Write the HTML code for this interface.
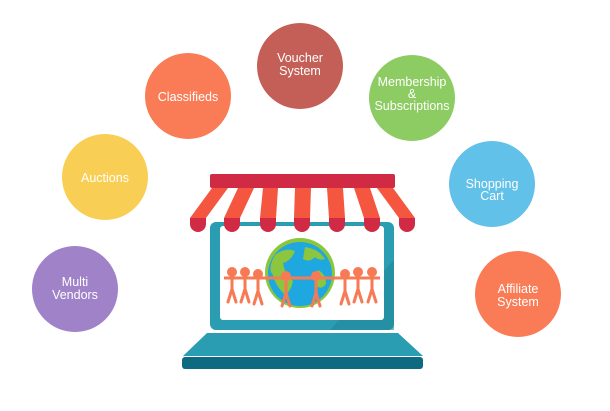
<!DOCTYPE html>
<html><head><meta charset="utf-8"><style>
html,body{margin:0;padding:0;background:#fff;}
svg{display:block}
text{font-family:"Liberation Sans",sans-serif;fill:#fff;font-size:12.5px;text-anchor:middle}
</style></head><body>
<svg width="610" height="411" viewBox="0 0 610 411" xmlns="http://www.w3.org/2000/svg">
<defs>
<g id="p" stroke="#f77a55" stroke-width="3" fill="none" stroke-linecap="round"><circle cx="0" cy="0" r="3.5" fill="#f77a55"/><path d="M0 3 V17 M0 17 L-4 30 M0 17 L4 30"/></g>
</defs>
<circle cx="300" cy="66" r="43" fill="#c45f58"/>
<text x="300" y="62">Voucher</text><text x="300" y="75">System</text>
<circle cx="188" cy="96" r="43" fill="#fa7c57"/>
<text x="188" y="101">Classifieds</text>
<circle cx="412" cy="98" r="43" fill="#8dcc62"/>
<text x="412" y="86">Membership</text><text x="412" y="98">&amp;</text><text x="412" y="110">Subscriptions</text>
<circle cx="105" cy="177" r="43" fill="#f8ce55"/>
<text x="105" y="182">Auctions</text>
<circle cx="492" cy="184" r="43" fill="#62c1e8"/>
<text x="492" y="188">Shopping</text><text x="492" y="200">Cart</text>
<circle cx="75" cy="289" r="43" fill="#9f82c8"/>
<text x="75" y="286">Multi</text><text x="75" y="299">Vendors</text>
<circle cx="518" cy="294" r="43" fill="#fa7c57"/>
<text x="518" y="293">Affiliate</text><text x="518" y="306">System</text>

<rect x="210" y="222" width="184" height="108" rx="6" fill="#2a9db2"/>
<path d="M330 330 L394 330 L394 260 Z" fill="#23869a" opacity="0.6"/>
<rect x="220" y="226" width="164" height="94" rx="3" fill="#fff"/>
<circle cx="300" cy="273" r="35" fill="#8cc63f"/>
<circle cx="300" cy="274" r="32" fill="#1fa7e0"/>
<path d="M275 255 q10 -8 20 -4 q-4 10 -12 12 q2 12 10 18 q-2 10 -8 14 q-10 -10 -12 -20 q-6 -6 2 -20Z" fill="#8cc63f"/>
<path d="M305 247 q14 2 20 12 q-6 2 -10 -2 q-6 6 -12 2Z M318 270 q8 4 8 14 q-4 6 -10 2 q-2 -8 2 -16Z" fill="#8cc63f"/>
<path d="M224 278 H380" stroke="#f77a55" stroke-width="3"/>
<use href="#p" x="232" y="272"/><use href="#p" x="245" y="272"/><use href="#p" x="258" y="274"/>
<use href="#p" x="286" y="276"/><use href="#p" x="316" y="276"/>
<use href="#p" x="345" y="274"/><use href="#p" x="358" y="272"/><use href="#p" x="372" y="272"/>

<rect x="210" y="174" width="185" height="14" rx="2" fill="#d12a44"/>
<g fill="#f4563f">
<path d="M212 188 L228 188 L206 218 L190 218Z"/>
<path d="M238 188 L254 188 L240 218 L224 218Z"/>
<path d="M263 188 L278 188 L276 218 L260 218Z"/>
<path d="M295 188 L311 188 L310 218 L294 218Z"/>
<path d="M327 188 L343 188 L345 218 L329 218Z"/>
<path d="M354 188 L370 188 L380 218 L364 218Z"/>
<path d="M377 188 L393 188 L415 218 L399 218Z"/>
</g>
<g fill="#d12a44">
<path d="M190 218 h16 v6 a8 8 0 0 1 -16 0Z"/>
<path d="M224 218 h16 v6 a8 8 0 0 1 -16 0Z"/>
<path d="M260 218 h16 v6 a8 8 0 0 1 -16 0Z"/>
<path d="M294 218 h16 v6 a8 8 0 0 1 -16 0Z"/>
<path d="M329 218 h16 v6 a8 8 0 0 1 -16 0Z"/>
<path d="M364 218 h16 v6 a8 8 0 0 1 -16 0Z"/>
<path d="M399 218 h16 v6 a8 8 0 0 1 -16 0Z"/>
</g>
<path d="M207 333 L398 333 L423 356 L183 356Z" fill="#2a9db2"/>
<rect x="182" y="357" width="241" height="12" rx="3" fill="#0e6a80"/>
</svg>
</body></html>
